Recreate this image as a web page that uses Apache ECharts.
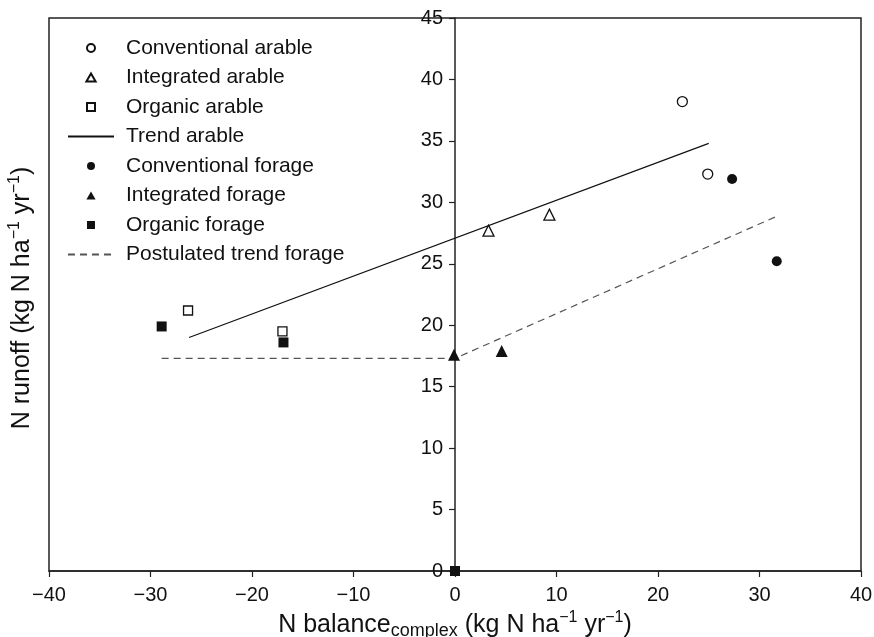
<!DOCTYPE html>
<html>
<head>
<meta charset="utf-8">
<script src="https://cdn.jsdelivr.net/npm/echarts@6/dist/echarts.min.js"></script>
<style>html,body{margin:0;padding:0;background:#fff}#c{width:874px;height:637px}</style>
</head>
<body>
<div id="c"></div>
<script>
// ---- data ----
const conventionalArable = [[22.4, 38.2], [24.9, 32.3]];
const integratedArable = [[3.3, 27.7], [9.3, 29.0]];
const organicArable = [[-26.3, 21.2], [-17.0, 19.5]];
const trendArable = [[-26.2, 19.0], [25.0, 34.8]];
const conventionalForage = [[27.3, 31.9], [31.7, 25.2]];
const integratedForage = [[-0.1, 17.6], [4.6, 17.9]];
const organicForage = [[-28.9, 19.9], [-16.9, 18.6], [0, 0]];
const postulatedTrendForage = [[-28.9, 17.3], [0, 17.3], [31.8, 28.9]];
const xTicks = [-40, -30, -20, -10, 0, 10, 20, 30, 40];
const yTicks = [0, 5, 10, 15, 20, 25, 30, 35, 40, 45];
const xTitle = '{n|N balance}{sub|complex}{n| (kg N ha}{sup|−1}{n| yr}{sup|−1}{n|)}';
const yTitle = '{n|N runoff (kg N ha}{sup|−1}{n| yr}{sup|−1}{n|)}';

const FONT = 'Liberation Sans, Arial, Helvetica, sans-serif';
const INK = '#111';

const chart = echarts.init(document.getElementById('c'), null, {renderer: 'canvas'});

function openStyle() { return {color: '#fff', borderColor: INK, borderWidth: 1.3, opacity: 1}; }
function filledStyle() { return {color: INK, borderColor: INK, borderWidth: 0, opacity: 1}; }

const TRI = 'path://M5,0L10,8.66L0,8.66Z';
const SQ = 'path://M0,0L10,0L10,10L0,10Z';
const legendItems = [
  {name: 'Conventional arable', icon: 'circle'},
  {name: 'Integrated arable', icon: TRI},
  {name: 'Organic arable', icon: SQ},
  {name: 'Trend arable', itemStyle: {opacity: 0}},
  {name: 'Conventional forage', icon: 'circle'},
  {name: 'Integrated forage', icon: TRI},
  {name: 'Organic forage', icon: SQ},
  {name: 'Postulated trend forage', itemStyle: {opacity: 0}}
];

const titleRich = {
  n: {fontFamily: FONT, fontSize: 25, color: INK, lineHeight: 30},
  sub: {fontFamily: FONT, fontSize: 18, color: INK, lineHeight: 15, verticalAlign: 'bottom'},
  sup: {fontFamily: FONT, fontSize: 16, color: INK, lineHeight: 15, verticalAlign: 'top'}
};

const option = {
  animation: false,
  backgroundColor: '#fff',
  grid: {left: 49, right: 13, top: 18, bottom: 66, outerBoundsMode: 'none', containLabel: false,
    show: true, borderColor: '#222', borderWidth: 1.5, backgroundColor: 'transparent'},
  legend: {
    orient: 'vertical', left: 67, top: 37, padding: 0,
    itemWidth: 46, itemHeight: 8, itemGap: 7.5, symbolKeepAspect: true,
    textStyle: {fontFamily: FONT, fontSize: 21, color: INK, lineHeight: 22, padding: [0, 0, 0, 7]},
    data: legendItems
  },
  graphic: [{
    type: 'text', x: 22, y: 298, rotation: Math.PI / 2, z: 10,
    style: {text: yTitle, rich: titleRich, align: 'center', verticalAlign: 'middle', fill: INK}
  }],
  xAxis: {
    type: 'value', min: xTicks[0], max: xTicks[xTicks.length - 1], interval: 10,
    name: xTitle,
    nameLocation: 'middle', nameGap: 38,
    nameTextStyle: {fontFamily: FONT, color: INK, rich: titleRich},
    axisLine: {show: true, onZero: false, lineStyle: {color: '#222', width: 1.5}},
    axisTick: {show: true, inside: false, length: 6, lineStyle: {color: '#222', width: 1.2}},
    axisLabel: {fontFamily: FONT, fontSize: 20, color: INK, margin: 14,
      formatter: v => String(v).replace('-', '−')},
    splitLine: {show: false}
  },
  yAxis: {
    type: 'value', min: yTicks[0], max: yTicks[yTicks.length - 1], interval: 5,
    axisLine: {show: true, onZero: true, lineStyle: {color: '#222', width: 1.5}},
    axisTick: {show: true, inside: false, length: 6, lineStyle: {color: '#222', width: 1.2}},
    axisLabel: {fontFamily: FONT, fontSize: 20, color: INK, margin: -394},
    splitLine: {show: false}
  },
  series: [
    {name: 'Conventional arable', type: 'scatter', data: conventionalArable, symbol: 'circle', symbolSize: 10, itemStyle: openStyle(), z: 5},
    {name: 'Integrated arable', type: 'scatter', data: integratedArable, symbol: 'triangle', symbolSize: 11, itemStyle: openStyle(), z: 5},
    {name: 'Organic arable', type: 'scatter', data: organicArable, symbol: 'rect', symbolSize: 9, itemStyle: openStyle(), z: 5},
    {name: 'Trend arable', type: 'line', data: trendArable, symbol: 'none', lineStyle: {color: INK, width: 1.2, type: 'solid'}, itemStyle: {color: INK}, z: 3},
    {name: 'Conventional forage', type: 'scatter', data: conventionalForage, symbol: 'circle', symbolSize: 10, itemStyle: filledStyle(), z: 5},
    {name: 'Integrated forage', type: 'scatter', data: integratedForage, symbol: 'triangle', symbolSize: 12, itemStyle: filledStyle(), z: 5},
    {name: 'Organic forage', type: 'scatter', data: organicForage, symbol: 'rect', symbolSize: 10, itemStyle: filledStyle(), z: 5},
    {name: 'Postulated trend forage', type: 'line', data: postulatedTrendForage, symbol: 'none', lineStyle: {color: '#555', width: 1.2, type: [7, 5]}, itemStyle: {color: '#555'}, z: 3}
  ]
};
chart.setOption(option);
</script>
</body>
</html>
